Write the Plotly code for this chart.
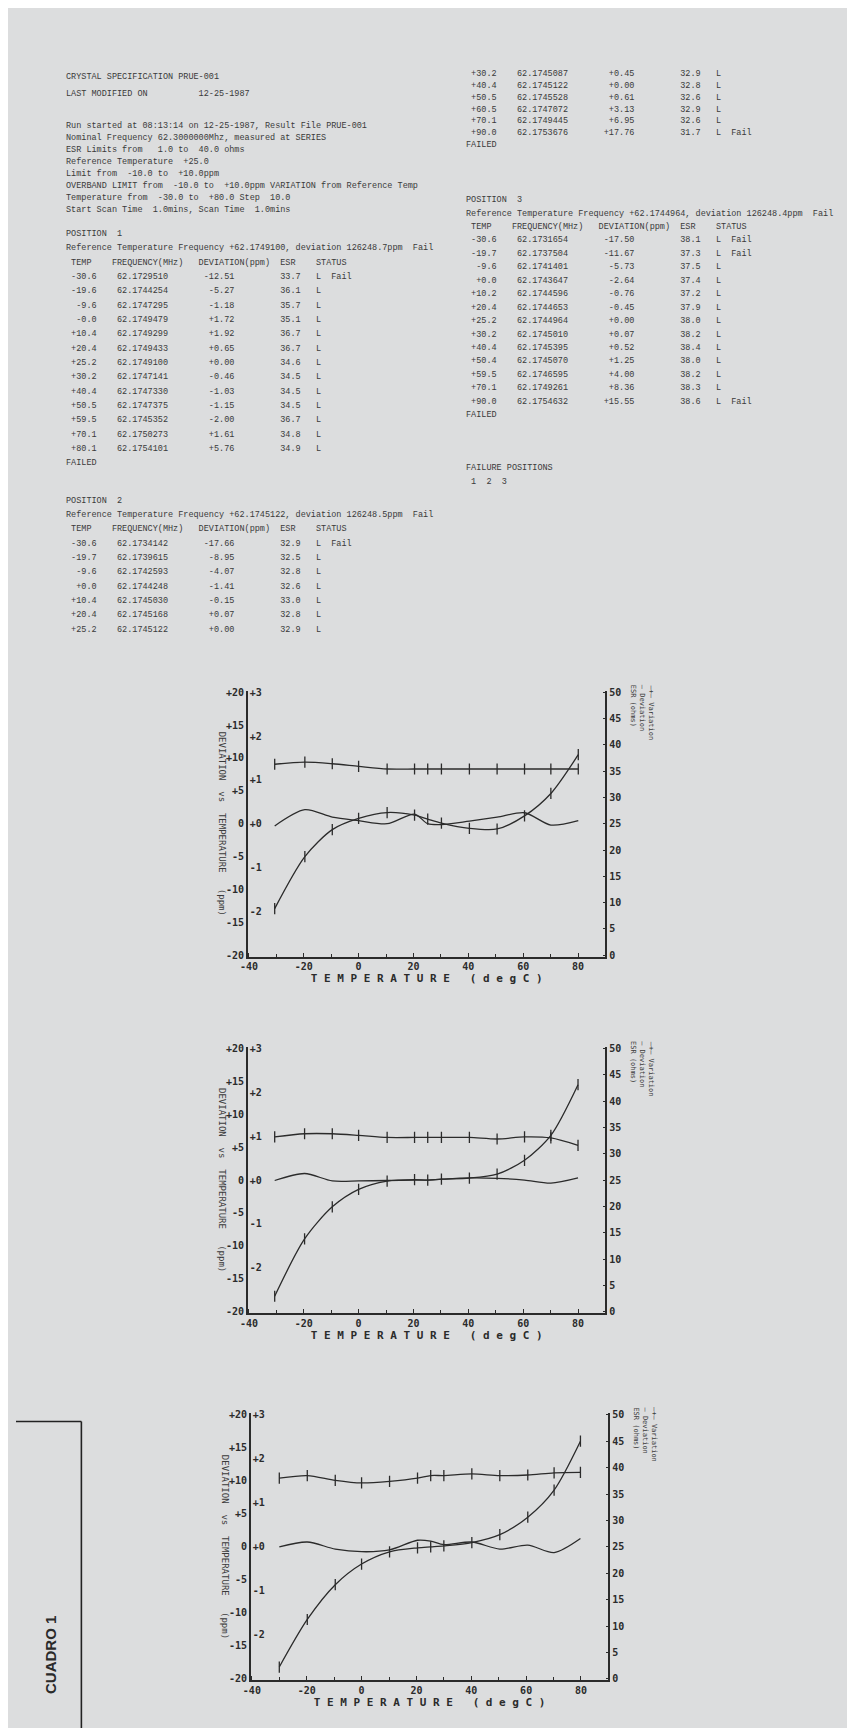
import plotly.graph_objects as go

W, H = 855, 1728

# ---------------- chart data ----------------
temps_p1 = [-30.6, -19.6, -9.6, 0.0, 10.4, 20.4, 25.2, 30.2, 40.4, 50.5, 60.5, 70.1, 80.1]
dev_p1 = [-12.9, -5.0, -0.9, 0.8, 1.7, 1.3, 0.7, 0.1, -0.7, -0.8, 1.2, 4.6, 10.5]
var_p1 = [-0.05, 0.32, 0.15, 0.07, 0.0, 0.22, 0.0, -0.02, 0.06, 0.15, 0.25, -0.03, 0.07]
esr_p1 = [36.3, 36.7, 36.4, 35.9, 35.4, 35.4, 35.4, 35.4, 35.4, 35.4, 35.4, 35.4, 35.4]

temps_p2 = [-30.6, -19.7, -9.6, 0.0, 10.4, 20.4, 25.2, 30.2, 40.4, 50.5, 60.5, 70.1, 80.0]
dev_p2 = [-17.66, -8.95, -4.07, -1.41, -0.15, 0.07, 0.0, 0.15, 0.3, 0.9, 3.0, 6.8, 14.5]
var_p2 = [-0.01, 0.15, -0.02, -0.02, -0.01, 0.0, 0.0, 0.02, 0.05, 0.04, 0.0, -0.07, 0.05]
esr_p2 = [33.2, 33.8, 33.8, 33.5, 33.1, 33.1, 33.1, 33.1, 33.1, 32.8, 33.2, 33.0, 31.6]

temps_p3 = [-30.0, -19.8, -9.6, 0.0, 10.2, 20.4, 25.2, 30.0, 40.2, 50.4, 60.6, 70.2, 79.8]
dev_p3 = [-18.2, -11.0, -5.73, -2.6, -0.75, -0.15, 0.0, 0.15, 0.65, 1.85, 4.5, 8.6, 16.0]
var_p3 = [0.0, 0.11, -0.05, -0.11, -0.07, 0.15, 0.13, 0.05, 0.11, -0.05, 0.04, -0.13, 0.19]
esr_p3 = [38.0, 38.5, 37.6, 37.1, 37.4, 38.0, 38.5, 38.5, 38.8, 38.5, 38.6, 39.0, 39.1]

x_ticks = [-40, -20, 0, 20, 40, 60, 80]
x_tick_labels = ["-40", "-20", "0", "20", "40", "60", "80"]
dev_ticks = [20, 15, 10, 5, 0, -5, -10, -15, -20]
dev_tick_labels = ["+20", "+15", "+10", "+5", "0", "-5", "-10", "-15", "-20"]
var_ticks = [3, 2, 1, 0, -1, -2]
var_tick_labels = ["+3", "+2", "+1", "+0", "-1", "-2"]
esr_ticks = [0, 5, 10, 15, 20, 25, 30, 35, 40, 45, 50]
esr_tick_labels = [str(v) for v in esr_ticks]

# ---------------- printout tables ----------------
pos1_temp = ["-30.6", "-19.6", "-9.6", "-0.0", "+10.4", "+20.4", "+25.2", "+30.2", "+40.4", "+50.5", "+59.5", "+70.1", "+80.1"]
pos1_freq = ["62.1729510", "62.1744254", "62.1747295", "62.1749479", "62.1749299", "62.1749433", "62.1749100",
             "62.1747141", "62.1747330", "62.1747375", "62.1745352", "62.1750273", "62.1754101"]
pos1_dev = ["-12.51", "-5.27", "-1.18", "+1.72", "+1.92", "+0.65", "+0.00", "-0.46", "-1.03", "-1.15", "-2.00", "+1.61", "+5.76"]
pos1_esr = ["33.7", "36.1", "35.7", "35.1", "36.7", "36.7", "34.6", "34.5", "34.5", "34.5", "36.7", "34.8", "34.9"]
pos1_stat = ["L  Fail"] + ["L"] * 12

pos2_temp = ["-30.6", "-19.7", "-9.6", "+0.0", "+10.4", "+20.4", "+25.2", "+30.2", "+40.4", "+50.5", "+60.5", "+70.1", "+90.0"]
pos2_freq = ["62.1734142", "62.1739615", "62.1742593", "62.1744248", "62.1745030", "62.1745168", "62.1745122",
             "62.1745087", "62.1745122", "62.1745528", "62.1747072", "62.1749445", "62.1753676"]
pos2_dev = ["-17.66", "-8.95", "-4.07", "-1.41", "-0.15", "+0.07", "+0.00", "+0.45", "+0.00", "+0.61", "+3.13", "+6.95", "+17.76"]
pos2_esr = ["32.9", "32.5", "32.8", "32.6", "33.0", "32.8", "32.9", "32.9", "32.8", "32.6", "32.9", "32.6", "31.7"]
pos2_stat = ["L  Fail"] + ["L"] * 11 + ["L  Fail"]

pos3_temp = ["-30.6", "-19.7", "-9.6", "+0.0", "+10.2", "+20.4", "+25.2", "+30.2", "+40.4", "+50.4", "+59.5", "+70.1", "+90.0"]
pos3_freq = ["62.1731654", "62.1737504", "62.1741401", "62.1743647", "62.1744596", "62.1744653", "62.1744964",
             "62.1745010", "62.1745395", "62.1745070", "62.1746595", "62.1749261", "62.1754632"]
pos3_dev = ["-17.50", "-11.67", "-5.73", "-2.64", "-0.76", "-0.45", "+0.00", "+0.07", "+0.52", "+1.25", "+4.00", "+8.36", "+15.55"]
pos3_esr = ["38.1", "37.3", "37.5", "37.4", "37.2", "37.9", "38.0", "38.2", "38.4", "38.0", "38.2", "38.3", "38.6"]
pos3_stat = ["L  Fail", "L  Fail"] + ["L"] * 10 + ["L  Fail"]

header_lines = [
    "Run started at 08:13:14 on 12-25-1987, Result File PRUE-001",
    "Nominal Frequency 62.3000000Mhz, measured at SERIES",
    "ESR Limits from   1.0 to  40.0 ohms",
    "Reference Temperature  +25.0",
    "Limit from  -10.0 to  +10.0ppm",
    "OVERBAND LIMIT from  -10.0 to  +10.0ppm VARIATION from Reference Temp",
    "Temperature from  -30.0 to  +80.0 Step  10.0",
    "Start Scan Time  1.0mins, Scan Time  1.0mins",
]
title_lines = ["CRYSTAL SPECIFICATION PRUE-001", "LAST MODIFIED ON          12-25-1987"]
ref_lines = [
    "Reference Temperature Frequency +62.1749100, deviation 126248.7ppm  Fail",
    "Reference Temperature Frequency +62.1745122, deviation 126248.5ppm  Fail",
    "Reference Temperature Frequency +62.1744964, deviation 126248.4ppm  Fail",
]
col_header = " TEMP    FREQUENCY(MHz)   DEVIATION(ppm)  ESR    STATUS"
failure_lines = ["FAILURE POSITIONS", " 1  2  3"]

x_title = "T E M P E R A T U R E   ( d e g C )"
left_title = "DEVIATION  vs  TEMPERATURE   (ppm)"
right_titles = ["ESR (ohms)", "— Deviation", "—+— Variation"]

# ---------------- styling / layout constants ----------------
BG = "#dcddde"
INK = "#2b2b2b"
TXT = "#3a3a3a"
MONO = "Liberation Mono"
PLOT_FONT = "DejaVu Sans Mono"

frames = [
    (234, 595, 682, 949),
    (234, 595, 1040, 1307),
    (237, 598, 1408, 1676),
]
series = [
    (temps_p1, dev_p1, var_p1, esr_p1),
    (temps_p2, dev_p2, var_p2, esr_p2),
    (temps_p3, dev_p3, var_p3, esr_p3),
]


def px(x):
    return x / W


def py(y):
    return 1 - y / H


fig = go.Figure()
layout = dict(
    width=W, height=H, margin=dict(l=0, r=0, t=0, b=0),
    paper_bgcolor=BG, plot_bgcolor="rgba(0,0,0,0)", showlegend=False,
)
annotations = []
shapes = []

tickfont = dict(family=PLOT_FONT, size=10, color=INK, weight="bold")

for i, ((l, r, t, b), (tx, dv, vr, es)) in enumerate(zip(frames, series)):
    k = i + 1
    xa = "x" if k == 1 else f"x{k}"
    ya_n = 3 * i + 1
    ya = ["y" if ya_n == 1 else f"y{ya_n}", f"y{ya_n + 1}", f"y{ya_n + 2}"]
    xkey = "xaxis" if k == 1 else f"xaxis{k}"
    ykeys = ["yaxis" if ya_n == 1 else f"yaxis{ya_n}", f"yaxis{ya_n + 1}", f"yaxis{ya_n + 2}"]

    layout[xkey] = dict(
        domain=[px(l), px(r)], anchor=ya[0], range=[-40.4, 90],
        tickvals=x_ticks, ticktext=x_tick_labels, tickfont=tickfont,
        ticklabeloverflow="allow",
        showline=True, linecolor=INK, linewidth=1.6, ticks="inside", ticklen=4,
        tickcolor=INK, showgrid=False, zeroline=False,
        minor=dict(dtick=10, ticks="inside", ticklen=3, tickcolor=INK),
        title=dict(text=x_title, font=dict(family=PLOT_FONT, size=11, color=INK, weight="bold"),
                   standoff=2),
    )
    layout[ykeys[0]] = dict(
        domain=[py(b), py(t)], anchor=xa, range=[-20.2, 20.2],
        tickvals=dev_ticks, ticktext=dev_tick_labels, tickfont=tickfont,
        showline=True, linecolor=INK, linewidth=1.6, ticks="", showgrid=False,
        zeroline=False,
    )
    layout[ykeys[1]] = dict(
        overlaying=ya[0], anchor="free", position=px(l) + 0.001, side="right",
        range=[-3.03, 3.03],
        tickvals=var_ticks, ticktext=var_tick_labels, tickfont=tickfont,
        showline=False, ticks="", showgrid=False, zeroline=False,
    )
    layout[ykeys[2]] = dict(
        overlaying=ya[0], anchor=xa, side="right", range=[-0.25, 50.25],
        tickvals=esr_ticks, ticktext=esr_tick_labels, tickfont=tickfont,
        showline=True, linecolor=INK, linewidth=1.6, ticks="inside", ticklen=3,
        tickcolor=INK, showgrid=False, zeroline=False,
    )

    line = dict(color=INK, width=1.3, shape="spline", smoothing=0.8)
    mk = dict(symbol="line-ns-open", size=8, line=dict(color=INK, width=1.3))
    fig.add_trace(go.Scatter(x=tx, y=dv, xaxis=xa, yaxis=ya[0], mode="lines+markers",
                             line=line, marker=mk, hoverinfo="skip"))
    fig.add_trace(go.Scatter(x=tx, y=vr, xaxis=xa, yaxis=ya[1], mode="lines",
                             line=line, hoverinfo="skip"))
    fig.add_trace(go.Scatter(x=tx, y=es, xaxis=xa, yaxis=ya[2], mode="lines+markers",
                             line=line, marker=mk, hoverinfo="skip"))

    annotations.append(dict(
        text=left_title, x=px(l - 26), y=py((t + b) / 2), xref="paper", yref="paper",
        textangle=90, showarrow=False, font=dict(family=PLOT_FONT, size=9, color=TXT),
        xanchor="center", yanchor="middle"))
    for j, rt in enumerate(right_titles):
        annotations.append(dict(
            text=rt, x=px(r + 28 + 9 * j), y=py(t - 8), xref="paper", yref="paper",
            textangle=90, showarrow=False, font=dict(family=PLOT_FONT, size=7, color=TXT),
            xanchor="center", yanchor="top"))


def text_line(s, x0, y0):
    annotations.append(dict(
        text=s.replace(" ", "&nbsp;"), x=px(x0), y=py(y0),
        xref="paper", yref="paper", showarrow=False, xanchor="left", yanchor="middle",
        font=dict(family=MONO, size=8.5, color=TXT)))


def row_text(t, f, d, e, s):
    return f"{t:>6}    {f:<10}       {d:>6}         {e:<4}   {s}"


def table(x0, y0, step, title, ref, rows, failed=True):
    y = y0
    if title:
        text_line(title, x0, y)
        y += step
        text_line(ref, x0, y)
        y += step
        text_line(col_header, x0, y)
        y += step
    for rw in rows:
        text_line(row_text(*rw), x0, y)
        y += step
    if failed:
        text_line("FAILED", x0, y)


XL, XR = 48, 452
text_line(title_lines[0], XL, 65)
text_line(title_lines[1], XL, 82)
for n, s in enumerate(header_lines):
    text_line(s, XL, 115 + 12 * n)

p1 = list(zip(pos1_temp, pos1_freq, pos1_dev, pos1_esr, pos1_stat))
p2 = list(zip(pos2_temp, pos2_freq, pos2_dev, pos2_esr, pos2_stat))
p3 = list(zip(pos3_temp, pos3_freq, pos3_dev, pos3_esr, pos3_stat))

table(XL, 223, 14.4, "POSITION  1", ref_lines[0], p1)
table(XL, 491, 14.4, "POSITION  2", ref_lines[1], p2[:7], failed=False)
table(XR, 62, 12, None, None, p2[7:])
table(XR, 189, 13.5, "POSITION  3", ref_lines[2], p3)
text_line(failure_lines[0], XR, 458)
text_line(failure_lines[1], XR, 472)

# CUADRO 1 box
shapes.append(dict(type="line", xref="paper", yref="paper", x0=px(0), x1=px(66),
                   y0=py(1416), y1=py(1416), line=dict(color="#222", width=1.6)))
shapes.append(dict(type="line", xref="paper", yref="paper", x0=px(66), x1=px(66),
                   y0=py(1416), y1=py(1728), line=dict(color="#222", width=1.6)))
annotations.append(dict(
    text="<b>CUADRO 1</b>", x=px(35), y=py(1651), xref="paper", yref="paper",
    textangle=-90, showarrow=False, font=dict(family="Liberation Sans", size=15, color="#2a2a2a"),
    xanchor="center", yanchor="middle"))

layout["annotations"] = annotations
layout["shapes"] = shapes
fig.update_layout(**layout)
fig.write_html("out.html")
